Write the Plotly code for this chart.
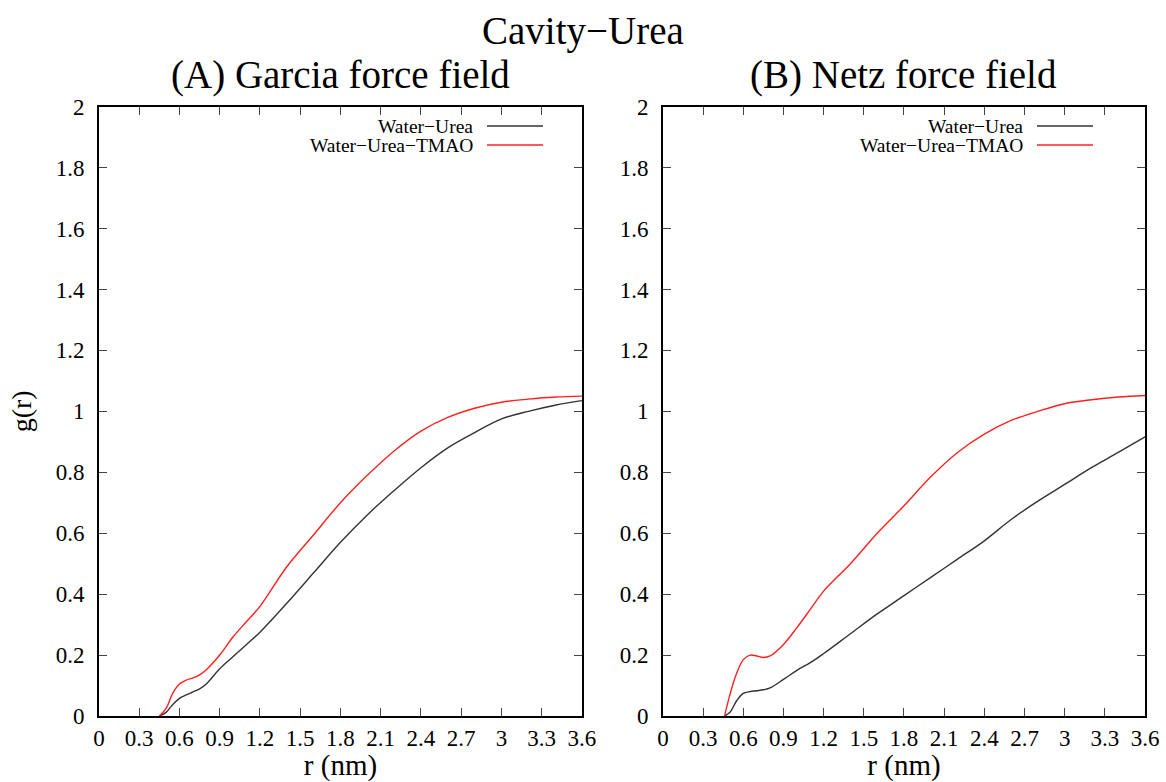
import plotly.graph_objects as go

# ---- data ----
r_garcia = [0.45, 0.5, 0.55, 0.6, 0.65, 0.7, 0.75, 0.8, 0.9, 1.0, 1.1, 1.2, 1.4, 1.6,
            1.8, 2.0, 2.2, 2.4, 2.6, 2.8, 3.0, 3.2, 3.4, 3.6]
g_garcia_wu = [0, 0.012, 0.038, 0.058, 0.069, 0.079, 0.089, 0.105, 0.155, 0.195, 0.235, 0.275,
               0.37, 0.47, 0.57, 0.66, 0.74, 0.815, 0.88, 0.93, 0.975, 1.0, 1.02, 1.035]
g_garcia_wut = [0, 0.025, 0.075, 0.105, 0.118, 0.125, 0.135, 0.152, 0.20, 0.26, 0.31, 0.36,
                0.49, 0.595, 0.70, 0.79, 0.87, 0.935, 0.98, 1.01, 1.03, 1.04, 1.047, 1.05]

r_netz = [0.46, 0.5, 0.55, 0.6, 0.65, 0.7, 0.75, 0.8, 0.9, 1.0, 1.1, 1.2, 1.4, 1.6,
          1.8, 2.0, 2.2, 2.4, 2.6, 2.8, 3.0, 3.2, 3.4, 3.6]
g_netz_wu = [0, 0.012, 0.05, 0.074, 0.08, 0.083, 0.086, 0.092, 0.12, 0.15, 0.175, 0.205,
             0.27, 0.335, 0.395, 0.455, 0.515, 0.575, 0.645, 0.705, 0.76, 0.815, 0.865, 0.916]
g_netz_wut = [0, 0.07, 0.14, 0.185, 0.2, 0.197, 0.192, 0.197, 0.235, 0.29, 0.35, 0.41,
              0.50, 0.60, 0.69, 0.785, 0.865, 0.925, 0.97, 1.0, 1.025, 1.038, 1.047, 1.052]

series_names = ["Water\u2212Urea", "Water\u2212Urea\u2212TMAO"]
series_colors = ["#333333", "#ff2020"]

x_ticks = [0, 0.3, 0.6, 0.9, 1.2, 1.5, 1.8, 2.1, 2.4, 2.7, 3.0, 3.3, 3.6]
x_tick_text = ["0", "0.3", "0.6", "0.9", "1.2", "1.5", "1.8", "2.1", "2.4", "2.7", "3", "3.3", "3.6"]
y_ticks = [0, 0.2, 0.4, 0.6, 0.8, 1.0, 1.2, 1.4, 1.6, 1.8, 2.0]
y_tick_text = ["0", "0.2", "0.4", "0.6", "0.8", "1", "1.2", "1.4", "1.6", "1.8", "2"]

FONT = "Liberation Serif, Times New Roman, serif"

fig = go.Figure()
panels = [
    ("x", "y", r_garcia, [g_garcia_wu, g_garcia_wut]),
    ("x2", "y2", r_netz, [g_netz_wu, g_netz_wut]),
]
for xa, ya, r, gs in panels:
    for name, col, g in zip(series_names, series_colors, gs):
        fig.add_trace(go.Scatter(x=r, y=g, mode="lines", name=name, xaxis=xa, yaxis=ya,
                                 line=dict(color=col, width=1.4, shape="spline", smoothing=1.0),
                                 showlegend=False, cliponaxis=True))

ydom = [0.0844, 0.8636]
xdoms = [[0.0849, 0.4991], [0.5686, 0.982]]

axis_common = dict(showline=True, linecolor="black", linewidth=2, mirror="ticks",
                   ticks="inside", ticklen=8, tickwidth=1, tickcolor="#444",
                   showgrid=False, zeroline=False, automargin=False,
                   tickfont=dict(family=FONT, size=23, color="black"))

fig.update_layout(
    width=1166, height=782,
    margin=dict(l=0, r=0, t=0, b=0),
    paper_bgcolor="white", plot_bgcolor="white",
    font=dict(family=FONT, color="black"),
    xaxis=dict(domain=xdoms[0], anchor="y", range=[0, 3.6], tickvals=x_ticks, ticktext=x_tick_text,
               title=dict(text="r (nm)", font=dict(size=29), standoff=4), **axis_common),
    yaxis=dict(domain=ydom, anchor="x", range=[0, 2], tickvals=y_ticks, ticktext=y_tick_text,
               title=dict(text="g(r)", font=dict(size=28), standoff=16), ticklabelstandoff=8,
               **axis_common),
    xaxis2=dict(domain=xdoms[1], anchor="y2", range=[0, 3.6], tickvals=x_ticks, ticktext=x_tick_text,
                title=dict(text="r (nm)", font=dict(size=29), standoff=4), **axis_common),
    yaxis2=dict(domain=ydom, anchor="x2", range=[0, 2], tickvals=y_ticks, ticktext=y_tick_text,
                ticklabelstandoff=8, **axis_common),
)

annotations = [
    dict(text="Cavity\u2212Urea", x=0.5, y=1 - 31 / 782, xref="paper", yref="paper",
         showarrow=False, font=dict(size=39, family=FONT), xanchor="center", yanchor="middle"),
    dict(text="(A) Garcia force field", x=sum(xdoms[0]) / 2, y=1 - 75 / 782, xref="paper", yref="paper",
         showarrow=False, font=dict(size=39, family=FONT), xanchor="center", yanchor="middle"),
    dict(text="(B) Netz force field", x=sum(xdoms[1]) / 2, y=1 - 75 / 782, xref="paper", yref="paper",
         showarrow=False, font=dict(size=39, family=FONT), xanchor="center", yanchor="middle"),
]
shapes = []
# gnuplot-style legend: text then sample line, in each panel's top right
legend_rows_px = [126, 145]
legend_line_end_px = [543, 1093]
for dom, line_x1 in zip(xdoms, legend_line_end_px):
    line_x0 = line_x1 - 56
    text_right = line_x0 - 12
    for name, col, ypx in zip(series_names, series_colors, legend_rows_px):
        yp = 1 - ypx / 782
        annotations.append(dict(text=name, x=text_right / 1166, y=yp, xref="paper", yref="paper",
                                showarrow=False, xanchor="right", yanchor="middle",
                                font=dict(size=19.5, family=FONT, color="black")))
        shapes.append(dict(type="line", xref="paper", yref="paper", x0=line_x0 / 1166, x1=line_x1 / 1166,
                           y0=yp, y1=yp, line=dict(color=col, width=1.4)))

fig.update_layout(annotations=annotations, shapes=shapes)
fig.write_html("out.html", config={"displayModeBar": False},
               post_script="document.body.style.margin='0';document.body.style.padding='0';"
                           "document.body.style.overflow='hidden';")
